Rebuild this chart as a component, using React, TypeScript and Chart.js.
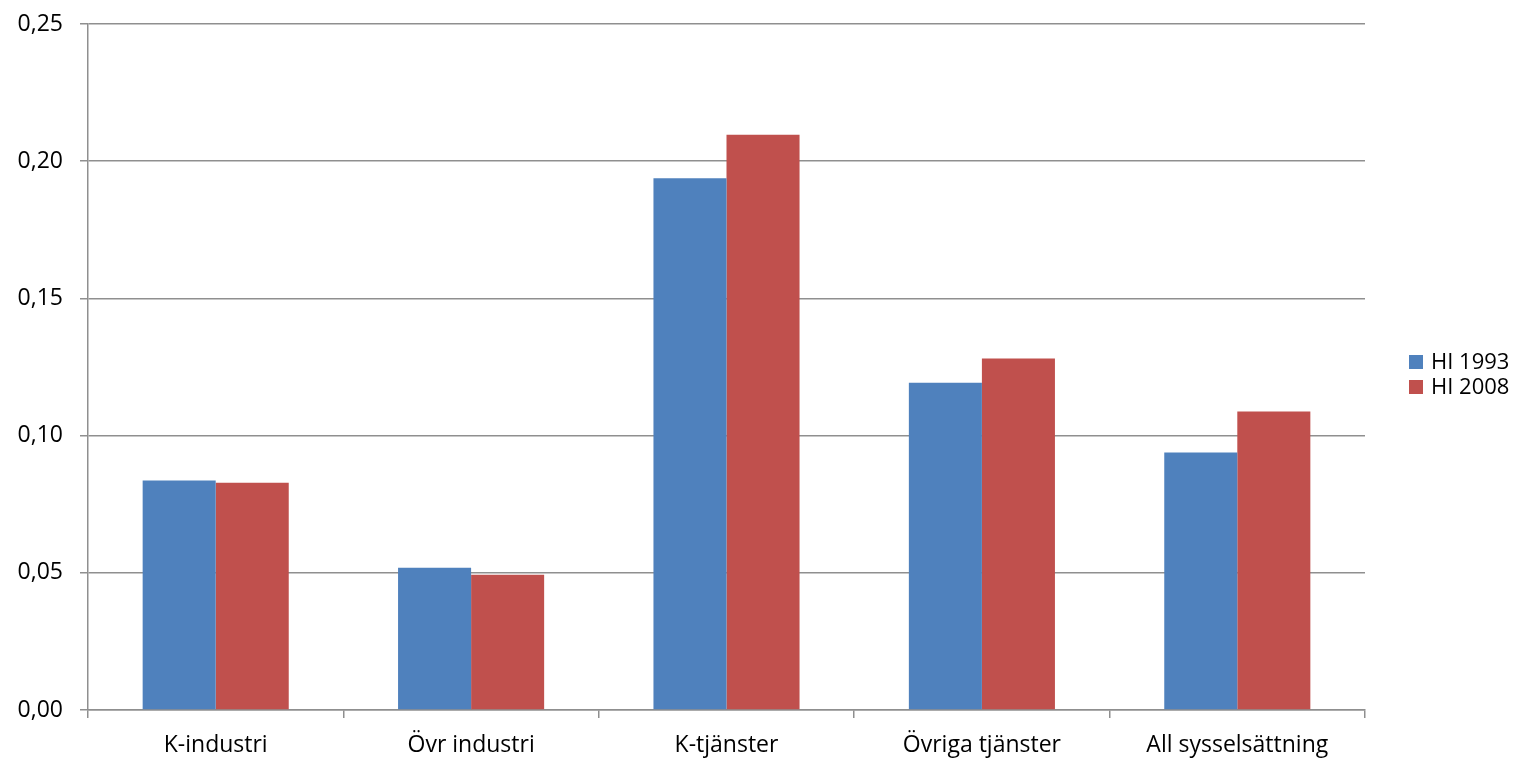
import React, { useEffect, useRef } from "react";
import { Chart, registerables } from "chart.js";

Chart.register(...registerables);

const categories = ["K-industri", "Övr industri", "K-tjänster", "Övriga tjänster", "All sysselsättning"];
const seriesNames = ["HI 1993", "HI 2008"];
const hi1993 = [0.0836, 0.0518, 0.1938, 0.1193, 0.0938];
const hi2008 = [0.0828, 0.0493, 0.2096, 0.1281, 0.1088];
const seriesColors = ["#4F81BD", "#C0504D"];
const yTicks = { min: 0, max: 0.25, step: 0.05 };

const FONT = "'Open Sans', 'Noto Sans', sans-serif";
const WEIGHT = "500";
const GRID = "#8f8f8f";
const GRID_W = 1.5;

const legendPlugin = {
  id: "customLegend",
  afterDraw(chart: any) {
    const ctx = chart.ctx;
    const area = chart.chartArea;
    const boxX = area.right + 44;
    const startY = 362;
    const gap = 25;
    ctx.save();
    ctx.font = `${WEIGHT} 22px ${FONT}`;
    ctx.textBaseline = "middle";
    ctx.textAlign = "left";
    chart.data.datasets.forEach((ds: any, i: number) => {
      const cy = startY + i * gap;
      ctx.fillStyle = ds.backgroundColor;
      ctx.fillRect(boxX, cy - 7, 14, 14);
      ctx.fillStyle = "#000";
      ctx.fillText(ds.label, boxX + 22, cy + 1);
    });
    ctx.restore();
  },
};

export default function App() {
  const ref = useRef<HTMLCanvasElement | null>(null);
  useEffect(() => {
    document.body.style.margin = "0";
    if (!ref.current) return;
    const chart = new Chart(ref.current, {
      type: "bar",
      data: {
        labels: categories,
        datasets: [
          { label: seriesNames[0], data: hi1993, backgroundColor: seriesColors[0], borderWidth: 0 },
          { label: seriesNames[1], data: hi2008, backgroundColor: seriesColors[1], borderWidth: 0 },
        ],
      },
      options: {
        responsive: false,
        animation: false,
        maintainAspectRatio: false,
        layout: { padding: { top: 24, right: 152, left: 0, bottom: 0 } },
        datasets: { bar: { categoryPercentage: 0.572, barPercentage: 1 } },
        plugins: { legend: { display: false }, tooltip: { enabled: false } },
        scales: {
          x: {
            grid: { drawOnChartArea: false, drawTicks: true, tickLength: 8, color: GRID, lineWidth: GRID_W },
            border: { display: true, color: GRID, width: GRID_W },
            ticks: { color: "#000", font: { family: FONT, size: 23, weight: WEIGHT }, padding: 14, maxRotation: 0, autoSkip: false },
            afterFit: (s: any) => { s.height = 49; s.paddingLeft = 0; s.paddingRight = 0; },
          },
          y: {
            min: yTicks.min,
            max: yTicks.max,
            grid: { drawOnChartArea: true, drawTicks: true, tickLength: 8, color: GRID, lineWidth: GRID_W },
            border: { display: true, color: GRID, width: GRID_W },
            ticks: {
              stepSize: yTicks.step,
              color: "#000",
              font: { family: FONT, size: 23, weight: WEIGHT },
              padding: 17,
              callback: (v: any) => Number(v).toFixed(2).replace(".", ","),
            },
            afterFit: (s: any) => { s.width = 88; s.paddingTop = 0; s.paddingBottom = 0; },
          },
        },
      },
      plugins: [legendPlugin],
    });
    return () => chart.destroy();
  }, []);
  return (
    <div style={{ position: "absolute", left: 0, top: 0, width: 1517, height: 759, background: "#fff" }}>
      <canvas ref={ref} width={1517} height={759} style={{ display: "block" }} />
    </div>
  );
}
